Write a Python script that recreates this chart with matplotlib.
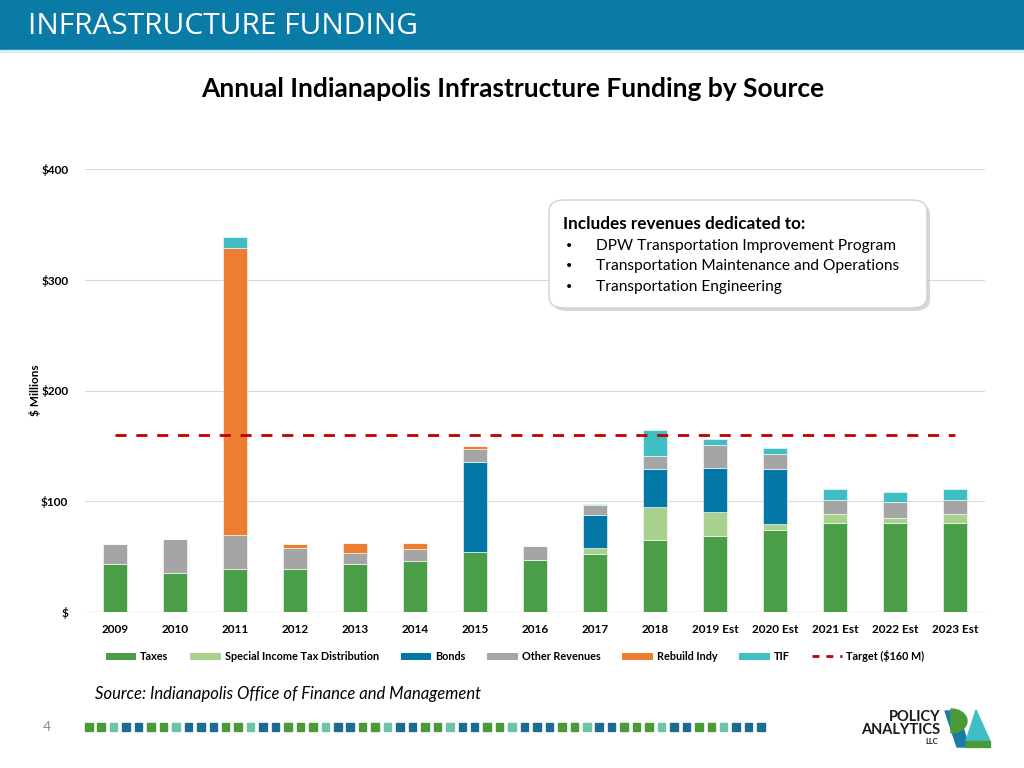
import matplotlib
matplotlib.use("Agg")
import matplotlib.pyplot as plt
from matplotlib.patches import Rectangle, FancyBboxPatch, Polygon, Wedge, Patch
from matplotlib.lines import Line2D
import numpy as np

# Data ($ millions)
years = ["2009", "2010", "2011", "2012", "2013", "2014", "2015", "2016", "2017",
         "2018", "2019 Est", "2020 Est", "2021 Est", "2022 Est", "2023 Est"]
taxes = [43, 35, 39, 39, 43, 46, 54, 47, 52, 65, 68, 74, 80, 80, 80]
sitd = [0, 0, 0, 0, 0, 0, 0, 0, 6, 30, 22, 5, 8, 5, 8]
bonds = [0, 0, 0, 0, 0, 0, 81.5, 0, 29, 34, 40, 50, 0, 0, 0]
other = [18, 31, 30, 19, 10, 11, 11.5, 12, 9.5, 12, 21, 14, 13, 14, 13]
rebuild = [0, 0, 260, 3.5, 9, 5, 3, 0, 0, 0, 0, 0, 0, 0, 0]
tif = [0, 0, 10, 0, 0, 0, 0, 0, 0.5, 23, 5, 5, 10, 9, 10]
target = [160] * len(years)

series = [("Taxes", taxes, "#4A9E47"),
          ("Special Income Tax Distribution", sitd, "#A9D18E"),
          ("Bonds", bonds, "#0378A6"),
          ("Other Revenues", other, "#A5A5A5"),
          ("Rebuild Indy", rebuild, "#ED7D31"),
          ("TIF", tif, "#3FBFC4")]

W, H = 1024, 768
fig = plt.figure(figsize=(W / 100, H / 100), dpi=100)


def px(x, y):
    return x / W, 1 - y / H


# header band
fig.patches.append(Rectangle(px(0, 50), 1, 50 / H, transform=fig.transFigure,
                             color="#0A7BA6", zorder=0))
fig.patches.append(Rectangle(px(0, 52), 1, 2 / H, transform=fig.transFigure,
                             color="#CDEFF7", zorder=0))
fig.text(*px(28, 26), "INFRASTRUCTURE FUNDING", color="white", fontsize=21.5,
         family="Open Sans", va="center", ha="left")

fig.text(*px(513, 89), "Annual Indianapolis Infrastructure Funding by Source",
         fontsize=19, family="Lato", fontweight="bold", ha="center", va="center")

# chart
ax = fig.add_axes([85 / W, 1 - 611.7 / H, 900 / W, (611.7 - 169.3) / H])
x = np.arange(len(years))
bottom = np.zeros(len(years))
for name, vals, col in series:
    v = np.array(vals, dtype=float)
    ax.bar(x, v, 0.4, bottom=bottom, color=col, edgecolor="white",
           linewidth=0.4, zorder=3)
    bottom += v
ax.plot(x, target, color="#C00000", linestyle=(0, (4, 3.5)), linewidth=2, zorder=4)

ax.set_xlim(-0.5, len(years) - 0.5)
ax.set_ylim(0, 400)
ax.set_yticks([0, 100, 200, 300, 400])
ax.set_yticklabels(["$", "$100", "$200", "$300", "$400"])
ax.set_xticks(x)
ax.set_xticklabels(years)
for lab in ax.get_xticklabels() + ax.get_yticklabels():
    lab.set_fontfamily("Lato")
    lab.set_fontweight("bold")
    lab.set_fontsize(8.5)
ax.tick_params(axis="both", length=0)
ax.tick_params(axis="y", pad=12)
ax.tick_params(axis="x", pad=9)
ax.grid(axis="y", color="#D9D9D9", linewidth=0.8, zorder=0)
for s in ax.spines.values():
    s.set_visible(False)
ax.axhline(0, color="#D9D9D9", linewidth=1, zorder=2)
fig.text(*px(35, 390), "$ Millions", rotation=90, fontsize=8.5, family="Lato",
         fontweight="bold", ha="center", va="center")

handles = [Patch(facecolor=c, label=n) for n, _, c in series]
handles.append(Line2D([0], [0], color="#C00000", linestyle=(0, (2.5, 2.5)),
                      linewidth=2, label="Target ($160 M)"))
fig.legend(handles=handles, loc="center", bbox_to_anchor=px(515, 656), ncol=7,
           frameon=False, prop={"family": "Lato", "weight": "bold", "size": 7.8},
           handlelength=2.8, handleheight=0.6, columnspacing=2.0, handletextpad=0.4)

# callout box
shadow = FancyBboxPatch(px(552, 311), 378 / W, 108 / H, transform=fig.transFigure,
                        boxstyle="round,pad=0,rounding_size=0.015",
                        facecolor="#BDBDBD", edgecolor="none", alpha=0.6, zorder=5)
box = FancyBboxPatch(px(549, 308), 378 / W, 108 / H, transform=fig.transFigure,
                     boxstyle="round,pad=0,rounding_size=0.015",
                     facecolor="white", edgecolor="#D0D0D0", linewidth=1, zorder=6)
fig.patches.extend([shadow, box])
fig.text(*px(563, 224), "Includes revenues dedicated to:", fontsize=12.3,
         family="Lato", fontweight="bold", va="center", zorder=7)
bullets = ["DPW Transportation Improvement Program",
           "Transportation Maintenance and Operations",
           "Transportation Engineering"]
for i, b in enumerate(bullets):
    yy = 246 + i * 20.5
    fig.text(*px(565, yy), "\u2022", fontsize=10, family="DejaVu Sans",
             va="center", zorder=7)
    fig.text(*px(596, yy), b, fontsize=11.2, family="Lato", va="center", zorder=7)

# footer
fig.text(*px(95, 694), "Source: Indianapolis Office of Finance and Management",
         fontsize=12, family="Lato", style="italic", va="center")
fig.text(*px(47, 727), "4", fontsize=10, color="#8C8C8C", family="Lato",
         ha="center", va="center")

sq_cols = {"g": "#4A9A3A", "t": "#6CC3A8", "b": "#1C6B93"}
pattern = "ggtbbggtbbbggtbbgggtbbggtbbggtbbggtbbbggtbbgggtbbggtbbb"
for i, k in enumerate(pattern[:56]):
    x0 = 85 + i * 12.45
    fig.patches.append(Rectangle(px(x0, 731), 7.5 / W, 8 / H, transform=fig.transFigure,
                                 color=sq_cols[k], zorder=1))

# logo
fig.text(*px(940, 717), "POLICY", fontsize=10.5, family="Lato", fontweight="bold",
         ha="right", va="center", color="#1a1a1a")
fig.text(*px(940, 730), "ANALYTICS", fontsize=10.5, family="Lato", fontweight="bold",
         ha="right", va="center", color="#1a1a1a")
fig.text(*px(938, 742), "LLC", fontsize=5.5, family="Lato", fontweight="bold",
         ha="right", va="center", color="#1a1a1a")
fig.patches.append(Polygon([px(945, 711), px(958, 711), px(969, 747), px(957, 747)],
                           closed=True, transform=fig.transFigure, color="#1C7BA6", zorder=2))
fig.patches.append(Wedge(px(951, 721), 16 / W, -90, 90, transform=fig.transFigure,
                         color="#4A9A3A", zorder=3))
fig.patches.append(Polygon([px(976, 710), px(990, 741), px(966, 741)],
                           closed=True, transform=fig.transFigure, color="#3FBFC4", zorder=2))
fig.patches.append(Rectangle(px(966, 747), 24 / W, 6 / H, transform=fig.transFigure,
                             color="#4A9A3A", zorder=2))

fig.savefig("out.png", dpi=100)
